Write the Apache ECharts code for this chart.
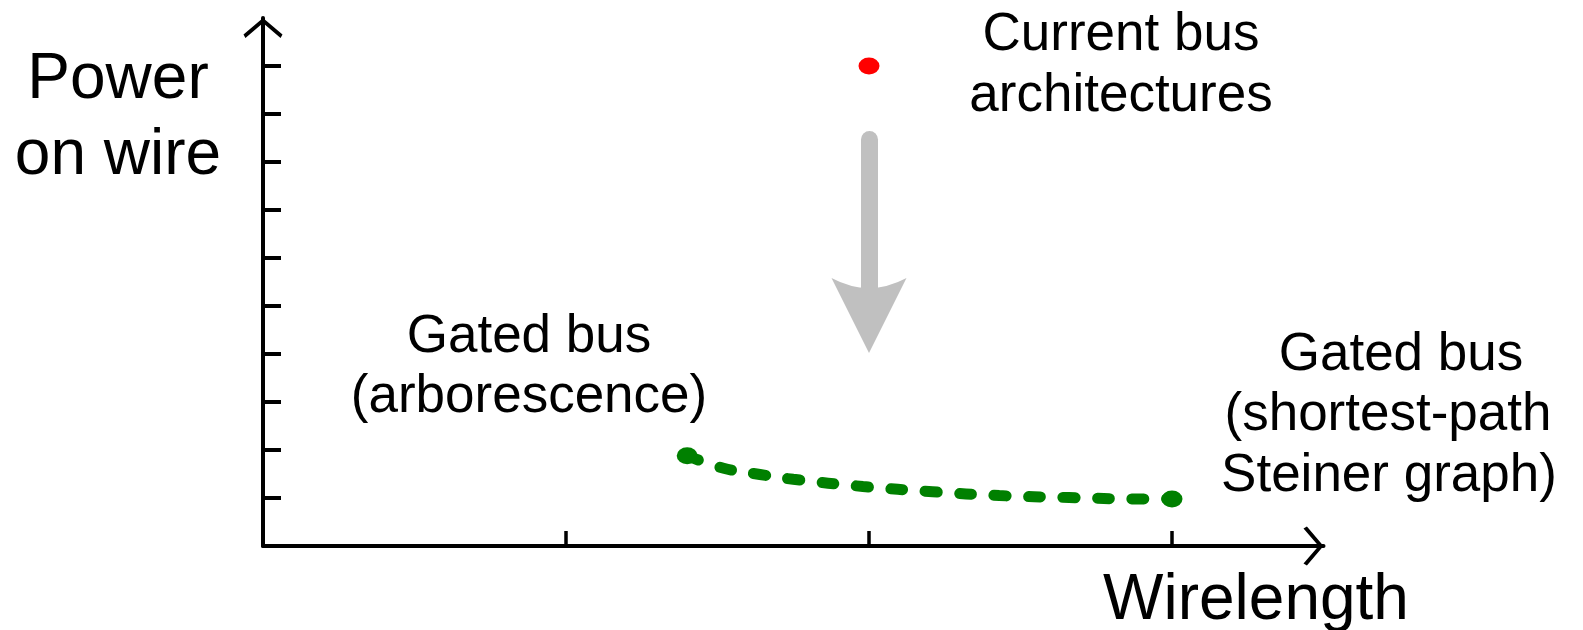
<!DOCTYPE html>
<html>
<head>
<meta charset="utf-8">
<title>Power on wire vs Wirelength</title>
<script src="https://cdn.jsdelivr.net/npm/echarts@6.0.0/dist/echarts.min.js"></script>
<style>
  html, body { margin: 0; padding: 0; background: #fff; }
  #chart { width: 1583px; height: 630px; }
</style>
</head>
<body>
<div id="chart"></div>
<script>
// 坐标轴刻度
const xTicks = [1, 2, 3];
const yTicks = [1, 2, 3, 4, 5, 6, 7, 8, 9, 10];
const xMax = 3.5;
const yMax = 11;

// 现有总线结构 (红点)
const currentBus = [[2, 10]];

// 灰色箭头的起点和终点
const arrowFrom = [2, 8.47];
const arrowTo = [2, 4.8];

// gated bus 曲线 (绿色虚线)
const gatedX = [1.40, 1.52, 1.64, 1.75, 1.98, 2.21, 2.43, 2.66, 2.89, 3.00];
const gatedY = [1.88, 1.62, 1.49, 1.39, 1.24, 1.13, 1.05, 1.01, 0.98, 0.98];

// 文字
const yTitle = ['Power', 'on wire'];
const xTitle = 'Wirelength';
const currentText = ['Current bus', 'architectures'];
const arborText = ['Gated bus', '(arborescence)'];
const steinerText = ['Gated bus', '(shortest-path', 'Steiner graph)'];

const gatedData = gatedX.map((x, i) => [x, gatedY[i]]);
const gatedEnds = [gatedData[0], gatedData[gatedData.length - 1]];

// 空心箭头
const axisArrow = 'path://M20,0 L40,17 L38,20.5 L20,5 L2,20.5 L0,17 Z';
const bigArrow = 'path://M37.5,0 L75,75 Q37.5,55 0,75 Z';

const font = '"Liberation Sans", Arial, sans-serif';

function textLine(text, x, y, size) {
    return {
        type: 'text',
        x: x,
        y: y,
        silent: true,
        style: {
            text: text,
            fill: '#000',
            font: size + 'px ' + font,
            align: 'center',
            verticalAlign: 'middle'
        }
    };
}

const axisCommon = {
    type: 'value',
    min: 0,
    splitLine: { show: false },
    axisLabel: { show: false },
    axisLine: {
        show: true,
        symbol: ['none', axisArrow],
        symbolSize: [40, 20],
        symbolOffset: [0, -10],
        lineStyle: { color: '#000', width: 4 }
    }
};

const options = {
    animation: false,
    grid: {
        left: 263,
        top: 18,
        right: 1583 - 263 - xMax * 303,
        bottom: 84
    },
    xAxis: Object.assign({}, axisCommon, {
        max: xMax,
        axisTick: {
            show: true,
            inside: true,
            length: 15,
            customValues: xTicks,
            lineStyle: { color: '#000', width: 3.5 }
        }
    }),
    yAxis: Object.assign({}, axisCommon, {
        max: yMax,
        axisTick: {
            show: true,
            inside: true,
            length: 18,
            customValues: yTicks,
            lineStyle: { color: '#000', width: 4 }
        }
    }),
    series: [
        {
            name: 'Gated bus',
            type: 'line',
            data: gatedData,
            smooth: 0.4,
            showSymbol: false,
            symbol: 'none',
            silent: true,
            lineStyle: {
                color: '#008000',
                width: 11,
                type: [12, 22.5],
                cap: 'round',
                opacity: 1
            },
            z: 3
        },
        {
            name: 'Gated bus ends',
            type: 'scatter',
            data: gatedEnds,
            symbol: 'circle',
            symbolSize: [21, 17],
            silent: true,
            itemStyle: { color: '#008000', opacity: 1 },
            z: 4
        },
        {
            name: 'Current bus architectures',
            type: 'scatter',
            data: currentBus,
            symbol: 'circle',
            symbolSize: [21, 17],
            silent: true,
            itemStyle: { color: '#ff0000', opacity: 1 },
            markLine: {
                silent: true,
                animation: false,
                symbol: ['none', bigArrow],
                symbolSize: [75, 75],
                label: { show: false },
                lineStyle: {
                    color: '#c0c0c0',
                    width: 17,
                    type: 'solid',
                    cap: 'round',
                    opacity: 1
                },
                data: [[{ coord: arrowFrom }, { coord: arrowTo }]]
            },
            z: 4
        }
    ],
    graphic: [
        textLine(yTitle[0], 118, 80, 64),
        textLine(yTitle[1], 118, 156, 64),
        textLine(xTitle, 1256, 601, 64),
        textLine(currentText[0], 1121, 35, 53),
        textLine(currentText[1], 1121, 96, 53),
        textLine(arborText[0], 529, 337, 53),
        textLine(arborText[1], 529, 397, 53),
        textLine(steinerText[0], 1401, 355, 53),
        textLine(steinerText[1], 1388, 415, 53),
        textLine(steinerText[2], 1389, 476, 53)
    ]
};

const chart = echarts.init(document.getElementById('chart'));
chart.setOption(options);
</script>
</body>
</html>
